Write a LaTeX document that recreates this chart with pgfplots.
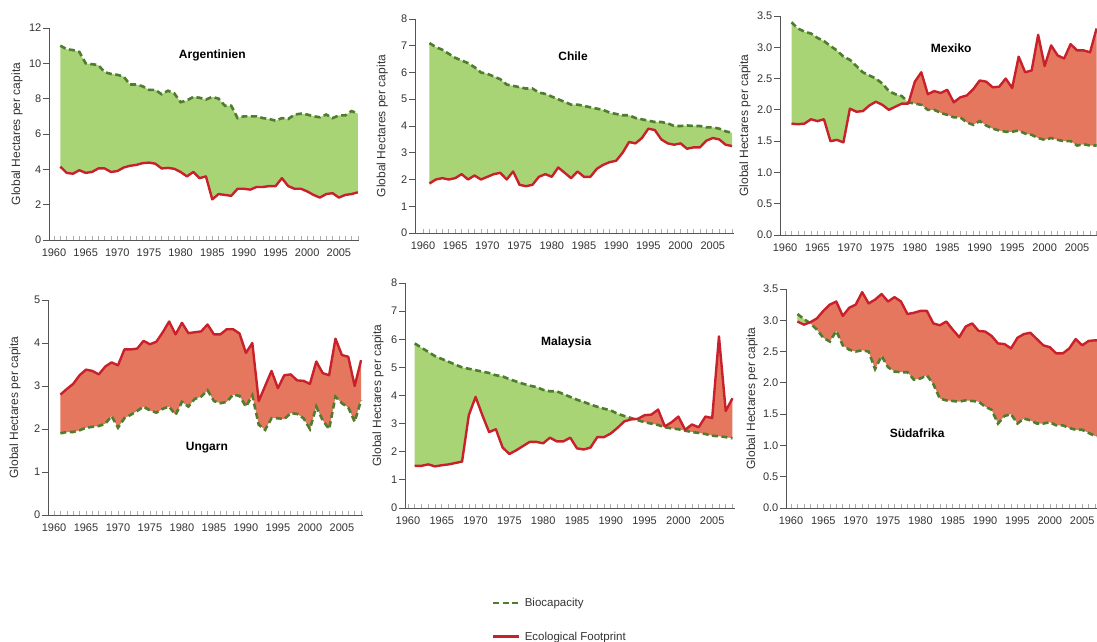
\documentclass[border=0pt]{standalone}
\usepackage{fontspec}
\setmainfont{Liberation Sans}
\usepackage{pgfplots}
\pgfplotsset{compat=1.18}
\usepackage{pgfplotstable}
\usepgfplotslibrary{fillbetween}

\definecolor{biogreen}{HTML}{4E7D2E}
\definecolor{fpred}{HTML}{C8212B}
\definecolor{fillgreen}{HTML}{A8D476}
\definecolor{fillred}{HTML}{E5775F}
\definecolor{axgray}{HTML}{555555}
\definecolor{txtgray}{HTML}{333333}

\pgfplotstableread{
year bio fp
1961 11.0 4.15
1962 10.8 3.8
1963 10.75 3.75
1964 10.65 3.95
1965 10.0 3.8
1966 9.95 3.85
1967 9.9 4.05
1968 9.5 4.05
1969 9.4 3.85
1970 9.35 3.9
1971 9.25 4.1
1972 8.8 4.2
1973 8.8 4.25
1974 8.7 4.35
1975 8.5 4.38
1976 8.5 4.32
1977 8.25 4.05
1978 8.45 4.08
1979 8.3 4.03
1980 7.8 3.85
1981 7.9 3.6
1982 8.1 3.85
1983 8.05 3.5
1984 7.95 3.6
1985 8.1 2.3
1986 8.0 2.6
1987 7.6 2.55
1988 7.6 2.5
1989 6.9 2.9
1990 7.0 2.9
1991 7.0 2.85
1992 7.0 3.0
1993 6.9 3.0
1994 6.85 3.05
1995 6.75 3.05
1996 6.9 3.5
1997 6.85 3.05
1998 7.1 2.9
1999 7.15 2.9
2000 7.1 2.75
2001 7.0 2.55
2002 6.95 2.4
2003 7.1 2.6
2004 6.9 2.65
2005 7.05 2.4
2006 7.05 2.55
2007 7.3 2.6
2008 7.15 2.7
}\argdata

\pgfplotstableread{
year bio fp
1961 7.1 1.85
1962 6.95 2.0
1963 6.85 2.05
1964 6.7 2.0
1965 6.55 2.05
1966 6.45 2.2
1967 6.35 2.0
1968 6.2 2.15
1969 6.0 2.0
1970 5.95 2.1
1971 5.85 2.2
1972 5.75 2.25
1973 5.55 2.0
1974 5.5 2.3
1975 5.45 1.8
1976 5.4 1.75
1977 5.4 1.8
1978 5.25 2.1
1979 5.2 2.2
1980 5.1 2.1
1981 5.0 2.45
1982 4.9 2.25
1983 4.8 2.05
1984 4.8 2.3
1985 4.75 2.1
1986 4.7 2.1
1987 4.65 2.4
1988 4.6 2.55
1989 4.5 2.65
1990 4.45 2.7
1991 4.4 3.0
1992 4.4 3.4
1993 4.3 3.35
1994 4.25 3.55
1995 4.2 3.9
1996 4.15 3.85
1997 4.15 3.5
1998 4.1 3.35
1999 4.0 3.3
2000 4.0 3.35
2001 4.02 3.15
2002 4.0 3.2
2003 4.0 3.2
2004 3.95 3.45
2005 3.95 3.55
2006 3.9 3.5
2007 3.8 3.3
2008 3.75 3.25
}\chiledata

\pgfplotstableread{
year bio fp
1961 3.4 1.78
1962 3.3 1.77
1963 3.25 1.78
1964 3.22 1.85
1965 3.15 1.82
1966 3.1 1.85
1967 3.02 1.5
1968 2.95 1.52
1969 2.85 1.48
1970 2.8 2.02
1971 2.7 1.97
1972 2.6 1.98
1973 2.55 2.07
1974 2.5 2.13
1975 2.42 2.08
1976 2.3 2.0
1977 2.25 2.05
1978 2.22 2.1
1979 2.12 2.1
1980 2.1 2.45
1981 2.08 2.6
1982 2.0 2.25
1983 2.0 2.3
1984 1.95 2.27
1985 1.92 2.32
1986 1.88 2.12
1987 1.88 2.2
1988 1.8 2.23
1989 1.76 2.33
1990 1.82 2.47
1991 1.75 2.45
1992 1.7 2.36
1993 1.67 2.37
1994 1.65 2.5
1995 1.65 2.35
1996 1.67 2.85
1997 1.62 2.6
1998 1.6 2.63
1999 1.55 3.2
2000 1.52 2.7
2001 1.55 3.03
2002 1.52 2.87
2003 1.5 2.82
2004 1.5 3.05
2005 1.43 2.95
2006 1.45 2.95
2007 1.43 2.92
2008 1.43 3.3
}\mexdata

\pgfplotstableread{
year bio fp
1961 1.9 2.8
1962 1.93 2.93
1963 1.93 3.05
1964 1.97 3.25
1965 2.03 3.38
1966 2.05 3.35
1967 2.07 3.27
1968 2.12 3.45
1969 2.3 3.55
1970 2.03 3.48
1971 2.25 3.85
1972 2.33 3.85
1973 2.42 3.87
1974 2.52 4.05
1975 2.43 3.97
1976 2.38 4.03
1977 2.47 4.25
1978 2.52 4.5
1979 2.33 4.2
1980 2.63 4.47
1981 2.52 4.23
1982 2.7 4.25
1983 2.75 4.27
1984 2.9 4.43
1985 2.65 4.2
1986 2.6 4.2
1987 2.63 4.32
1988 2.8 4.32
1989 2.77 4.22
1990 2.52 3.77
1991 2.78 4.0
1992 2.1 2.65
1993 1.98 3.0
1994 2.25 3.35
1995 2.25 2.95
1996 2.23 3.25
1997 2.37 3.27
1998 2.35 3.13
1999 2.25 3.12
2000 2.0 3.05
2001 2.52 3.57
2002 2.2 3.3
2003 2.0 3.25
2004 2.75 4.1
2005 2.6 3.72
2006 2.5 3.68
2007 2.17 3.0
2008 2.67 3.6
}\ungdata

\pgfplotstableread{
year bio fp
1961 5.85 1.5
1962 5.7 1.5
1963 5.55 1.55
1964 5.4 1.48
1965 5.3 1.52
1966 5.2 1.55
1967 5.1 1.6
1968 5.0 1.65
1969 4.95 3.3
1970 4.9 3.95
1971 4.85 3.3
1972 4.8 2.7
1973 4.72 2.8
1974 4.68 2.15
1975 4.58 1.92
1976 4.5 2.05
1977 4.42 2.2
1978 4.35 2.35
1979 4.3 2.35
1980 4.2 2.3
1981 4.15 2.5
1982 4.15 2.37
1983 4.05 2.37
1984 3.95 2.5
1985 3.85 2.12
1986 3.77 2.08
1987 3.68 2.15
1988 3.6 2.52
1989 3.53 2.52
1990 3.47 2.65
1991 3.35 2.85
1992 3.27 3.08
1993 3.2 3.15
1994 3.12 3.17
1995 3.05 3.3
1996 3.0 3.32
1997 2.95 3.5
1998 2.87 2.9
1999 2.83 3.05
2000 2.8 3.25
2001 2.75 2.78
2002 2.7 2.97
2003 2.67 2.87
2004 2.63 3.25
2005 2.57 3.2
2006 2.55 6.1
2007 2.52 3.45
2008 2.48 3.9
}\maldata

\pgfplotstableread{
year bio fp
1961 3.1 2.98
1962 3.02 2.93
1963 2.95 2.97
1964 2.85 3.03
1965 2.72 3.15
1966 2.66 3.25
1967 2.83 3.3
1968 2.6 3.07
1969 2.53 3.2
1970 2.5 3.25
1971 2.52 3.45
1972 2.5 3.27
1973 2.22 3.33
1974 2.43 3.42
1975 2.25 3.3
1976 2.18 3.37
1977 2.17 3.3
1978 2.17 3.1
1979 2.05 3.12
1980 2.07 3.15
1981 2.12 3.15
1982 1.98 2.95
1983 1.75 2.92
1984 1.72 2.98
1985 1.71 2.85
1986 1.7 2.73
1987 1.72 2.9
1988 1.71 2.95
1989 1.7 2.83
1990 1.62 2.82
1991 1.57 2.75
1992 1.35 2.63
1993 1.47 2.62
1994 1.5 2.55
1995 1.35 2.72
1996 1.43 2.78
1997 1.4 2.8
1998 1.35 2.7
1999 1.35 2.6
2000 1.37 2.57
2001 1.32 2.47
2002 1.32 2.47
2003 1.28 2.55
2004 1.25 2.7
2005 1.25 2.6
2006 1.2 2.67
2007 1.15 2.68
2008 1.15 2.68
}\safdata

\tikzset{
  biostyle/.style={draw=biogreen, line width=2.6pt, dash pattern=on 6pt off 3.5pt},
  fpstyle/.style={draw=fpred, line width=2.4pt, line join=round},
  ttl/.style={font=\bfseries\fontsize{12}{14}\selectfont},
}

\pgfplotsset{
  panel/.style={
    scale only axis, axis lines=left, anchor=south west,
    axis line style={-, draw=axgray, line width=0.9pt},
    no markers,
    ymin=0,
    xtick={1960,1965,...,2005},
    minor xtick={1960,1961,...,2008},
    xtick align=inside, ytick align=outside,
    major tick length=6pt, minor tick length=4pt,
    major x tick style={draw=none},
    minor x tick style={draw=gray!65, line width=0.6pt},
    y tick style={draw=axgray, line width=0.9pt},
    tick label style={font=\fontsize{11}{13}\selectfont, text=txtgray},
    /pgf/number format/assume math mode=true,
    xticklabel style={/pgf/number format/1000 sep={}, yshift=-5pt},
    yticklabel style={inner xsep=1.5pt},
    ylabel={Global Hectares per capita},
    ylabel style={font=\fontsize{12}{14}\selectfont, text=txtgray, anchor=center},
  },
  dec/.style={yticklabel style={/pgf/number format/.cd, fixed, fixed zerofill, precision=1}},
}

\begin{document}
\begin{tikzpicture}

% Argentinien
\begin{axis}[panel, at={(49pt,402pt)}, width=309.5pt, height=212pt,
  xmin=1959.21, xmax=2008.1, ymax=12, ytick={0,2,...,12},
  ylabel style={at={(axis description cs:-0.103,0.5)}}]
  \addplot[draw=none, name path=B1, forget plot] table[x=year, y=bio] {\argdata};
  \addplot[draw=none, name path=F1, forget plot] table[x=year, y=fp] {\argdata};
  \addplot[fill=fillgreen, draw=none, forget plot] fill between[of=B1 and F1];
  \addplot[biostyle] table[x=year, y=bio] {\argdata};
  \addplot[fpstyle] table[x=year, y=fp] {\argdata};
  \node[ttl] at (axis cs:1985,10.47) {Argentinien};
\end{axis}

% Chile
\begin{axis}[panel, at={(415pt,409pt)}, width=319pt, height=214pt,
  xmin=1958.76, xmax=2008.3, ymax=8, ytick={0,1,...,8},
  ylabel style={at={(axis description cs:-0.103,0.5)}}]
  \addplot[draw=none, name path=B2, forget plot] table[x=year, y=bio] {\chiledata};
  \addplot[draw=none, name path=F2, forget plot] table[x=year, y=fp] {\chiledata};
  \addplot[fill=fillgreen, draw=none, forget plot] fill between[of=B2 and F2];
  \addplot[biostyle] table[x=year, y=bio] {\chiledata};
  \addplot[fpstyle] table[x=year, y=fp] {\chiledata};
  \node[ttl] at (axis cs:1983.3,6.62) {Chile};
\end{axis}

% Mexiko
\begin{axis}[panel, dec, at={(780pt,407pt)}, width=318.5pt, height=219pt,
  xmin=1959.23, xmax=2008.3, ymax=3.5, ytick={0,0.5,...,3.5},
  ylabel style={at={(axis description cs:-0.11,0.5)}}]
  \addplot[draw=none, name path=B3, forget plot] table[x=year, y=bio] {\mexdata};
  \addplot[draw=none, name path=F3, forget plot] table[x=year, y=fp] {\mexdata};
  \addplot[fill=fillgreen, draw=none, forget plot] fill between[of=B3 and F3, soft clip={domain=1961:1979.054}];
  \addplot[fill=fillred, draw=none, forget plot] fill between[of=B3 and F3, soft clip={domain=1979.054:2008}];
  \addplot[biostyle] table[x=year, y=bio] {\mexdata};
  \addplot[fpstyle] table[x=year, y=fp] {\mexdata};
  \node[ttl] at (axis cs:1985.6,2.99) {Mexiko};
\end{axis}

% Ungarn
\begin{axis}[panel, at={(48pt,127pt)}, width=315pt, height=215pt,
  xmin=1959.06, xmax=2008.3, ymax=5, ytick={0,1,...,5},
  ylabel style={at={(axis description cs:-0.105,0.5)}}]
  \addplot[draw=none, name path=B4, forget plot] table[x=year, y=bio] {\ungdata};
  \addplot[draw=none, name path=F4, forget plot] table[x=year, y=fp] {\ungdata};
  \addplot[fill=fillred, draw=none, forget plot] fill between[of=B4 and F4];
  \addplot[biostyle] table[x=year, y=bio] {\ungdata};
  \addplot[fpstyle] table[x=year, y=fp] {\ungdata};
  \node[ttl] at (axis cs:1983.9,1.56) {Ungarn};
\end{axis}

% Malaysia
\begin{axis}[panel, at={(405pt,134pt)}, width=329.5pt, height=225pt,
  xmin=1959.56, xmax=2008.3, ymax=8, ytick={0,1,...,8},
  ylabel style={at={(axis description cs:-0.082,0.5)}},
  legend style={at={(axis description cs:0.264,-0.39)}, anchor=north west,
    draw=none, fill=none, inner sep=0pt, row sep=20pt,
    nodes={inner xsep=4pt},
    font=\fontsize{11.5}{13}\selectfont, text=txtgray},
  legend cell align=left,
  legend image code/.code={\draw[#1] (0pt,0pt) -- (26pt,0pt);}]
  \addplot[draw=none, name path=B5, forget plot] table[x=year, y=bio] {\maldata};
  \addplot[draw=none, name path=F5, forget plot] table[x=year, y=fp] {\maldata};
  \addplot[fill=fillgreen, draw=none, forget plot] fill between[of=B5 and F5, soft clip={domain=1961:1993.5}];
  \addplot[fill=fillred, draw=none, forget plot] fill between[of=B5 and F5, soft clip={domain=1993.5:2008}];
  \addplot[biostyle] table[x=year, y=bio] {\maldata};
  \addplot[fpstyle] table[x=year, y=fp] {\maldata};
  \node[ttl] at (axis cs:1983.4,5.9) {Malaysia};
  \legend{Biocapacity, Ecological Footprint}
\end{axis}

% Suedafrika
\begin{axis}[panel, dec, at={(786pt,134pt)}, width=317.5pt, height=219pt,
  xmin=1959.23, xmax=2008.3, ymax=3.5, ytick={0,0.5,...,3.5},
  ylabel style={at={(axis description cs:-0.107,0.5)}}]
  \addplot[draw=none, name path=B6, forget plot] table[x=year, y=bio] {\safdata};
  \addplot[draw=none, name path=F6, forget plot] table[x=year, y=fp] {\safdata};
  \addplot[fill=fillgreen, draw=none, forget plot] fill between[of=B6 and F6, soft clip={domain=1961:1962.82}];
  \addplot[fill=fillred, draw=none, forget plot] fill between[of=B6 and F6, soft clip={domain=1962.82:2008}];
  \addplot[biostyle] table[x=year, y=bio] {\safdata};
  \addplot[fpstyle] table[x=year, y=fp] {\safdata};
  \node[ttl] at (axis cs:1979.5,1.2) {Südafrika};
\end{axis}

\pgfresetboundingbox
\path (0,0) rectangle (1097pt,642pt);
\end{tikzpicture}
\end{document}
